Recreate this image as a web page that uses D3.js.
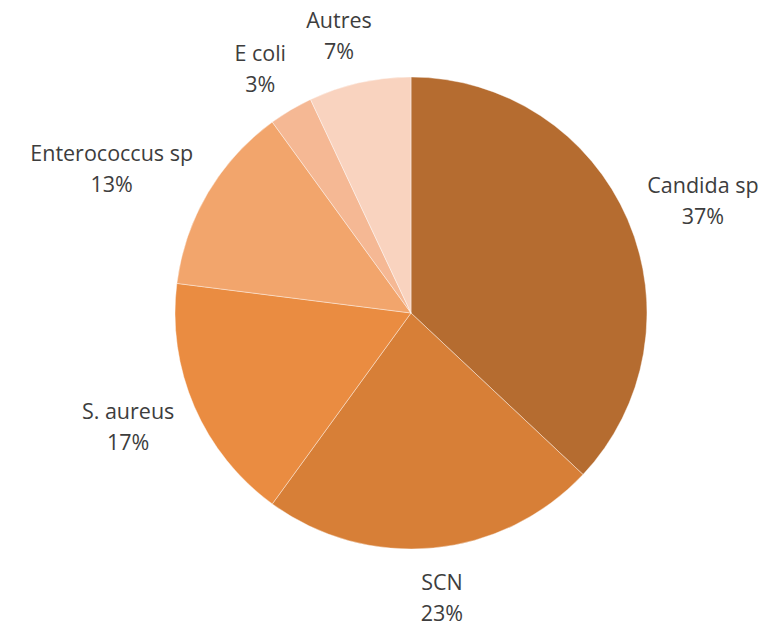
<!DOCTYPE html>
<html>
<head>
<meta charset="utf-8">
<script src="https://d3js.org/d3.v7.min.js"></script>
<style>
body{ margin:0; background:#fff; }
.lbl{ font-family:"Open Sans", sans-serif; font-size:21.5px; fill:#3d3d3d; }
</style>
</head>
<body>
<svg class="chart"></svg>
<script>
// data
var categories = ["Candida sp", "SCN", "S. aureus", "Enterococcus sp", "E coli", "Autres"];
var values = [37, 23, 17, 13, 3, 7];
var colors = ["#b56c30", "#d77f37", "#ea8c41", "#f2a56c", "#f5b894", "#f9d3bf"];

var width = 768, height = 628;
var cx = 411, cy = 313, radius = 236;

var svg = d3.select(".chart")
	.attr("width", width)
	.attr("height", height);

var g = svg.append("g")
	.attr("transform", "translate(" + cx + "," + cy + ")");

var rows = categories.map(function(c, i){ return {name: c, value: values[i], color: colors[i]}; });

var pie = d3.pie()
	.sort(null)
	.value(function(d){ return d.value; });

var arc = d3.arc()
	.innerRadius(0)
	.outerRadius(radius);

var slices = pie(rows);

g.selectAll(".slice")
	.data(slices)
	.enter()
	.append("path")
	.attr("class", "slice")
	.attr("d", arc)
	.attr("fill", function(d){ return d.data.color; })
	.attr("stroke", "#fff")
	.attr("stroke-opacity", 0.5)
	.attr("stroke-width", 0.8);

//labels outside end, box pushed away from the pie along the mid angle
var gapX = 24, gapY = 19, lineH = 31;
var labels = g.selectAll(".lbl")
	.data(slices)
	.enter()
	.append("text")
	.attr("class", "lbl")
	.attr("text-anchor", "middle");

labels.append("tspan")
	.attr("x", 0)
	.attr("dy", 0)
	.text(function(d){ return d.data.name; });
labels.append("tspan")
	.attr("x", 0)
	.attr("dy", lineH)
	.text(function(d){ return d.data.value + "%"; });

labels.each(function(d){
	var t = d3.select(this);
	var bb = this.getBBox();
	var a = (d.startAngle + d.endAngle) / 2;
	var s = Math.sin(a), c = Math.cos(a);
	var px = (radius + gapX) * s, py = -(radius + gapY) * c;
	var bx = px + bb.width / 2 * Math.sign(s) * Math.sqrt(Math.abs(s));
	var by = py - bb.height / 2 * c;
	// shift text so that bbox center lands on (bx, by)
	var ox = bx - (bb.x + bb.width / 2);
	var oy = by - (bb.y + bb.height / 2);
	t.attr("transform", "translate(" + ox + "," + oy + ")");
});
</script>
</body>
</html>
